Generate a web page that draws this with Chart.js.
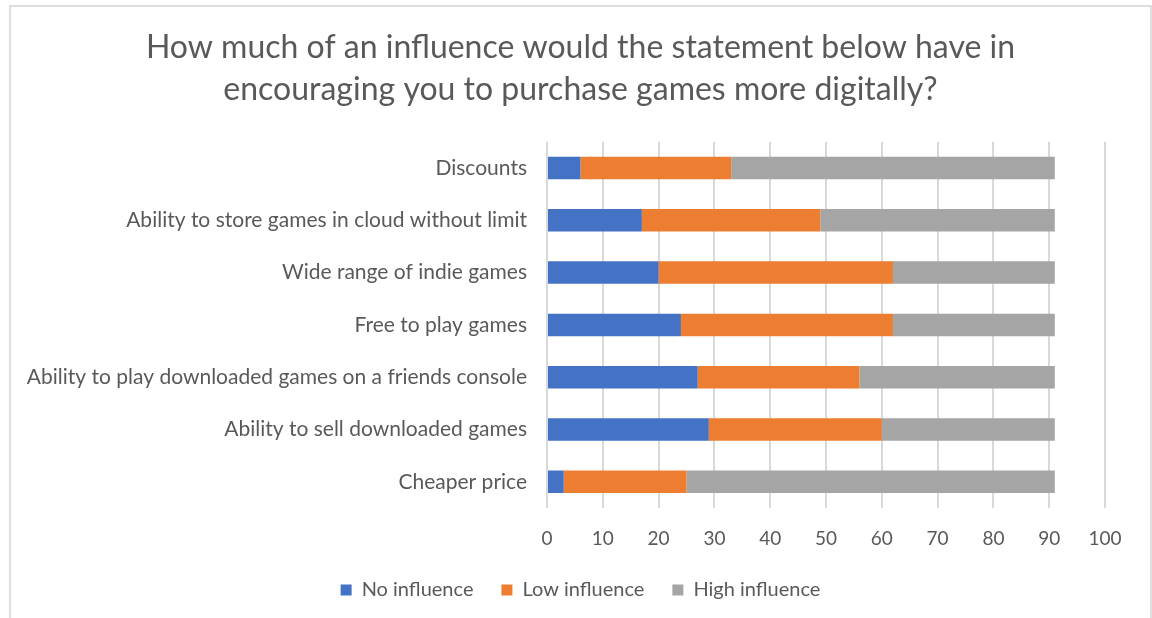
<!DOCTYPE html>
<html>
<head>
<meta charset="utf-8">
<script src="https://cdn.jsdelivr.net/npm/chart.js@4.4.0/dist/chart.umd.min.js"></script>
<style>
  body { margin: 0; background: #fff; overflow: hidden; }
  #frame {
    position: absolute; left: 9px; top: 5px;
    width: 1139px; height: 640px;
    border: 2px solid #dedede;
  }
  #wrap { position: relative; width: 1139px; height: 603px; }
</style>
</head>
<body>
<div id="frame">
  <div id="wrap"><canvas id="myChart"></canvas></div>
</div>
<script>
const categories = [
  "Discounts",
  "Ability to store games in cloud without limit",
  "Wide range of indie games",
  "Free to play games",
  "Ability to play downloaded games on a friends console",
  "Ability to sell downloaded games",
  "Cheaper price"
];
const noInfluence = [6, 17, 20, 24, 27, 29, 3];
const lowInfluence = [27, 32, 42, 38, 29, 31, 22];
const highInfluence = [58, 42, 29, 29, 35, 31, 66];

const titleLines = [
  "How much of an influence would the statement below have in",
  "encouraging you to purchase games more digitally?"
];

const fontName = "Lato";
const textColor = "#595959";

const data = {
  labels: categories,
  datasets: [
    {
      label: "No influence",
      data: noInfluence,
      backgroundColor: "#4472c4",
    },
    {
      label: "Low influence",
      data: lowInfluence,
      backgroundColor: "#ed7d31",
    },
    {
      label: "High influence",
      data: highInfluence,
      backgroundColor: "#a5a5a5",
    }
  ]
};

// title and legend ignore the right padding, so they are centred on the whole frame
const centreBoxes = {
  id: "centreBoxes",
  afterLayout: function (chart) {
    [chart.titleBlock, chart.legend].forEach(function (box) {
      box.left = 0;
      box.right = chart.width;
      box.width = chart.width;
    });
  }
};

const config = {
  type: "bar",
  data: data,
  plugins: [centreBoxes],
  options: {
    indexAxis: "y",
    responsive: true,
    maintainAspectRatio: false,
    animation: false,
    layout: { padding: { left: 0, right: 45, top: 0, bottom: 0 } },
    datasets: {
      bar: { categoryPercentage: 1, barPercentage: 0.43 }
    },
    scales: {
      x: {
        stacked: true,
        min: 0,
        max: 100,
        ticks: {
          stepSize: 10,
          padding: 19,
          color: textColor,
          font: { family: fontName, size: 19 }
        },
        grid: { color: "#d9d9d9", lineWidth: 2, drawTicks: false },
        border: { display: false },
        afterFit: function (scale) { scale.height = 44; }
      },
      y: {
        stacked: true,
        ticks: {
          padding: 20,
          color: textColor,
          font: { family: fontName, size: 21 }
        },
        grid: { display: false, drawTicks: false },
        border: { display: false },
        afterFit: function (scale) { scale.width = 536; }
      }
    },
    plugins: {
      title: {
        display: true,
        text: titleLines,
        color: textColor,
        font: { family: fontName, size: 32, weight: "normal", lineHeight: 1.31 },
        padding: { top: 20, bottom: 31 }
      },
      legend: {
        position: "bottom",
        labels: {
          boxWidth: 11,
          boxHeight: 11,
          padding: 28,
          color: textColor,
          font: { family: fontName, size: 20 }
        }
      },
      tooltip: { enabled: false }
    }
  }
};

const myChart = new Chart(document.getElementById("myChart"), config);
</script>
</body>
</html>
